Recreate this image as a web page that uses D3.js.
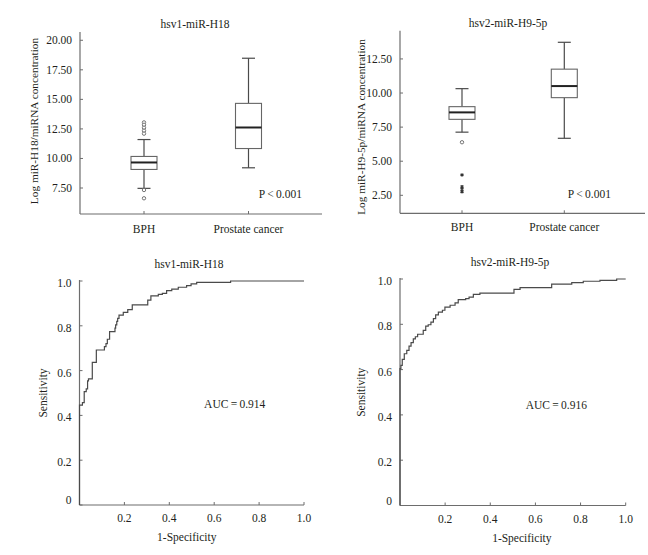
<!DOCTYPE html>
<html lang="en">
<head>
<meta charset="UTF-8">
<title>hsv miRNA box plots and ROC curves</title>
<style>
  body { margin: 0; background: #fff; }
  svg { display: block; }
  text { font-family: "Liberation Serif", "DejaVu Serif", serif; fill: #231f20; }
</style>
</head>
<body>
<svg id="chart" width="648" height="555"></svg>
<script src="https://d3js.org/d3.v7.min.js"></script>
<script>
// ---- data ----
const groups = ["BPH", "Prostate cancer"];

// hsv1-miR-H18 box plot
const h18Min = [7.47, 9.21];
const h18Q1 = [9.07, 10.84];
const h18Med = [9.66, 12.62];
const h18Q3 = [10.17, 14.66];
const h18Max = [11.6, 18.48];
const h18Outliers = [13.05, 12.85, 12.6, 12.35, 12.1, 7.33, 6.63]; // BPH, circles
const h18Extremes = [];
const h18Ticks = [7.5, 10, 12.5, 15, 17.5, 20];

// hsv2-miR-H9-5p box plot
const h9Min = [7.13, 6.68];
const h9Q1 = [8.07, 9.66];
const h9Med = [8.58, 10.51];
const h9Q3 = [9.0, 11.75];
const h9Max = [10.32, 13.72];
const h9Outliers = [6.39];                 // BPH, circles
const h9Extremes = [3.99, 3.13, 2.94, 2.76]; // BPH, stars
const h9Ticks = [2.5, 5, 7.5, 10, 12.5];

// ROC curves: false positive rate where sensitivity steps up, and the new sensitivity
const rocH18Fpr = [0, 0, 0.013, 0.021, 0.030, 0.036, 0.040, 0.057, 0.075, 0.111, 0.118, 0.124, 0.134,
  0.158, 0.161, 0.166, 0.170, 0.176, 0.195, 0.215, 0.235, 0.304, 0.318, 0.351, 0.369, 0.388,
  0.411, 0.440, 0.477, 0.497, 0.522, 0.673, 1.0];
const rocH18Sens = [0, 0.446, 0.457, 0.506, 0.518, 0.554, 0.563, 0.637, 0.692, 0.707, 0.720, 0.740, 0.774,
  0.790, 0.804, 0.820, 0.833, 0.848, 0.860, 0.872, 0.893, 0.915, 0.934, 0.940, 0.945, 0.957,
  0.964, 0.972, 0.979, 0.987, 0.994, 1.0, 1.0];

const rocH9Fpr = [0, 0, 0, 0.004, 0.010, 0.019, 0.030, 0.040, 0.049, 0.059, 0.068, 0.078, 0.103, 0.114,
  0.125, 0.137, 0.148, 0.158, 0.170, 0.188, 0.199, 0.222, 0.244, 0.258, 0.291, 0.306, 0.325,
  0.354, 0.505, 0.532, 0.672, 0.761, 0.812, 0.886, 0.960, 1.0];
const rocH9Sens = [0, 0.538, 0.604, 0.619, 0.645, 0.670, 0.685, 0.704, 0.719, 0.736, 0.745, 0.756, 0.773, 0.792,
  0.798, 0.810, 0.825, 0.842, 0.854, 0.862, 0.876, 0.884, 0.895, 0.909, 0.913, 0.920, 0.932,
  0.938, 0.954, 0.962, 0.977, 0.984, 0.990, 0.994, 1.0, 1.0];

const rocTicks = [0, 0.2, 0.4, 0.6, 0.8, 1.0];

// ---- drawing ----
const svg = d3.select("#chart");
const axisColor = "#6d6d6d";
const lineColor = "#4a4a4a";

function boxPanel(o) {
  const g = svg.append("g");
  const y = d3.scaleLinear().domain(o.domain).range([o.bottom, o.top]);
  const x = d3.scalePoint().domain(groups).range(o.centers);

  // axes (ticks point inward)
  g.append("line").attr("x1", o.left).attr("x2", o.left).attr("y1", o.top).attr("y2", o.bottom)
    .attr("stroke", axisColor).attr("stroke-width", 1.2);
  g.append("line").attr("x1", o.left).attr("x2", o.right).attr("y1", o.bottom).attr("y2", o.bottom)
    .attr("stroke", axisColor).attr("stroke-width", 1.2);

  o.ticks.forEach(t => {
    g.append("line").attr("x1", o.left).attr("x2", o.left + 3).attr("y1", y(t)).attr("y2", y(t))
      .attr("stroke", axisColor);
    g.append("text").attr("x", o.left - 8).attr("y", y(t)).attr("dy", "0.35em")
      .attr("text-anchor", "end").style("font-size", "11.5px").text(d3.format(".2f")(t));
  });
  groups.forEach(c => {
    g.append("line").attr("x1", x(c)).attr("x2", x(c)).attr("y1", o.bottom).attr("y2", o.bottom - 3)
      .attr("stroke", axisColor);
    g.append("text").attr("x", x(c)).attr("y", o.bottom + o.catGap)
      .attr("text-anchor", "middle").style("font-size", "11.5px").text(c);
  });

  // boxes
  const bw = 26, cw = 13;
  groups.forEach((c, i) => {
    const cx = x(c);
    g.append("line").attr("x1", cx).attr("x2", cx).attr("y1", y(o.max[i])).attr("y2", y(o.q3[i]))
      .attr("stroke", lineColor).attr("stroke-width", 1.2);
    g.append("line").attr("x1", cx).attr("x2", cx).attr("y1", y(o.q1[i])).attr("y2", y(o.min[i]))
      .attr("stroke", lineColor).attr("stroke-width", 1.2);
    [o.max[i], o.min[i]].forEach(v => {
      g.append("line").attr("x1", cx - cw / 2).attr("x2", cx + cw / 2).attr("y1", y(v)).attr("y2", y(v))
        .attr("stroke", lineColor).attr("stroke-width", 1.2);
    });
    g.append("rect").attr("x", cx - bw / 2).attr("y", y(o.q3[i]))
      .attr("width", bw).attr("height", y(o.q1[i]) - y(o.q3[i]))
      .attr("fill", "#fff").attr("stroke", "#666").attr("stroke-width", 1.1);
    g.append("line").attr("x1", cx - bw / 2).attr("x2", cx + bw / 2).attr("y1", y(o.med[i])).attr("y2", y(o.med[i]))
      .attr("stroke", "#222").attr("stroke-width", 2);
  });

  const bx = x(groups[0]);
  g.selectAll(null).data(o.outliers).enter().append("circle")
    .attr("cx", bx).attr("cy", d => y(d)).attr("r", 1.7)
    .attr("fill", "#fff").attr("stroke", "#666").attr("stroke-width", 0.9);
  g.selectAll(null).data(o.extremes).enter().append("path")
    .attr("transform", d => `translate(${bx},${y(d)})`)
    .attr("d", d3.symbol(d3.symbolAsterisk, 9))
    .attr("fill", "none").attr("stroke", "#333").attr("stroke-width", 1.1);

  g.append("text").attr("x", o.titleX).attr("y", o.titleY).attr("text-anchor", "middle")
    .style("font-size", "11.5px").text(o.title);
  g.append("text").attr("transform", `translate(${o.yLabelX},${o.yLabelY}) rotate(-90)`)
    .attr("text-anchor", "middle").style("font-size", "11.3px").text(o.yLabel);
  g.append("text").attr("x", o.pX).attr("y", o.pY).attr("text-anchor", "end")
    .style("font-size", "11.5px").text("P\u2009<\u20090.001");
}

function rocPanel(o) {
  const g = svg.append("g");
  const x = d3.scaleLinear().domain([0, 1]).range([o.left, o.right]);
  const y = d3.scaleLinear().domain([0, 1]).range([o.bottom, o.top]);

  g.append("line").attr("x1", o.left).attr("x2", o.left).attr("y1", o.top - 1).attr("y2", o.bottom)
    .attr("stroke", axisColor).attr("stroke-width", 1.2);
  g.append("line").attr("x1", o.left).attr("x2", o.right).attr("y1", o.bottom).attr("y2", o.bottom)
    .attr("stroke", axisColor).attr("stroke-width", 1.2);

  rocTicks.forEach(t => {
    g.append("line").attr("x1", o.left).attr("x2", o.left + 3).attr("y1", y(t)).attr("y2", y(t))
      .attr("stroke", axisColor);
    g.append("text").attr("x", o.left - 8).attr("y", t === 0 ? y(t) - 5 : y(t) + 2).attr("dy", "0.35em")
      .attr("text-anchor", "end").style("font-size", "11.5px")
      .text(t === 0 ? "0" : d3.format(".1f")(t));
    if (t > 0) {
      g.append("line").attr("x1", x(t)).attr("x2", x(t)).attr("y1", o.bottom).attr("y2", o.bottom - 3)
        .attr("stroke", axisColor);
      g.append("text").attr("x", x(t)).attr("y", o.bottom + 17).attr("text-anchor", "middle")
        .style("font-size", "11.5px").text(d3.format(".1f")(t));
    }
  });

  const line = d3.line().x(d => x(d[0])).y(d => y(d[1])).curve(d3.curveStepAfter);
  g.append("path").datum(d3.zip(o.fpr, o.sens)).attr("d", line)
    .attr("fill", "none").attr("stroke", lineColor).attr("stroke-width", 1.2);

  g.append("text").attr("x", o.titleX).attr("y", o.top - 13).attr("text-anchor", "middle")
    .style("font-size", "11.5px").text(o.title);
  g.append("text").attr("x", (o.left + o.right) / 2 + o.xLabelShift).attr("y", o.bottom + 36)
    .attr("text-anchor", "middle").style("font-size", "11.5px").text("1-Specificity");
  g.append("text").attr("transform", `translate(${o.yLabelX},${y(0.5)}) rotate(-90)`)
    .attr("text-anchor", "middle").style("font-size", "11.5px").text("Sensitivity");
  g.append("text").attr("x", x(o.aucAt[0])).attr("y", y(o.aucAt[1]))
    .style("font-size", "11.5px").text(o.auc);
}

boxPanel({
  left: 80, right: 322, top: 32, bottom: 214, domain: [5.3, 20.7], centers: [144, 248.5],
  ticks: h18Ticks, min: h18Min, q1: h18Q1, med: h18Med, q3: h18Q3, max: h18Max,
  outliers: h18Outliers, extremes: h18Extremes, catGap: 19,
  title: "hsv1-miR-H18", titleX: 195, titleY: 28,
  yLabel: "Log miR-H18/miRNA concentration", yLabelX: 38, yLabelY: 121,
  pX: 302, pY: 198
});

boxPanel({
  left: 400, right: 645, top: 30.7, bottom: 213.3, domain: [1.18, 14.57], centers: [462, 564.3],
  ticks: h9Ticks, min: h9Min, q1: h9Q1, med: h9Med, q3: h9Q3, max: h9Max,
  outliers: h9Outliers, extremes: h9Extremes, catGap: 18,
  title: "hsv2-miR-H9-5p", titleX: 508, titleY: 27,
  yLabel: "Log miR-H9-5p/miRNA concentration", yLabelX: 365, yLabelY: 127,
  pX: 611, pY: 198
});

rocPanel({
  left: 79.5, right: 304, top: 281, bottom: 505,
  fpr: rocH18Fpr, sens: rocH18Sens,
  title: "hsv1-miR-H18", titleX: 189, xLabelShift: -5, yLabelX: 47,
  auc: "AUC\u2009=\u20090.914", aucAt: [0.555, 0.435]
});

rocPanel({
  left: 400, right: 625.7, top: 279, bottom: 505.5,
  fpr: rocH9Fpr, sens: rocH9Sens,
  title: "hsv2-miR-H9-5p", titleX: 510, xLabelShift: 9, yLabelX: 365,
  auc: "AUC\u2009=\u20090.916", aucAt: [0.557, 0.425]
});
</script>
</body>
</html>
